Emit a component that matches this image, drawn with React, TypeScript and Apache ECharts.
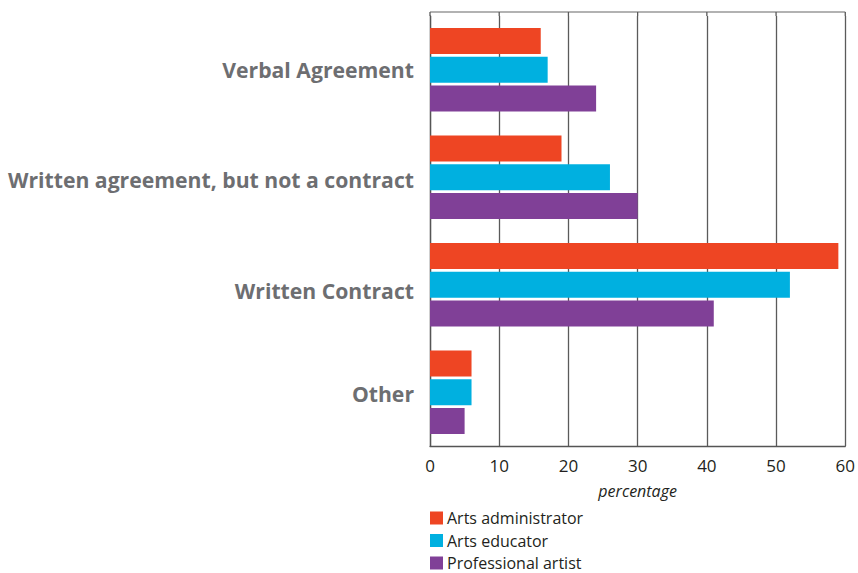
import React, { useEffect, useRef } from "react";
import * as echarts from "echarts";

const categories = [
  "Verbal Agreement",
  "Written agreement, but not a contract",
  "Written Contract",
  "Other",
];
const seriesNames = ["Arts administrator", "Arts educator", "Professional artist"];
const artsAdministrator = [16, 19, 59, 6];
const artsEducator = [17, 26, 52, 6];
const professionalArtist = [24, 30, 41, 5];
const colors = ["#ee4523", "#00b0e0", "#804097"];
const xTicks = { min: 0, max: 60, interval: 10 };

// vertical nudges of the category labels (px, downward)
const labelShift = [0, 2, 6, 1];

export default function App() {
  const ref = useRef<HTMLDivElement>(null);
  useEffect(() => {
    if (!ref.current) return;
    const chart = echarts.init(ref.current, null, { renderer: "svg" });
    const data = [artsAdministrator, artsEducator, professionalArtist];
    const rich: Record<string, any> = {};
    labelShift.forEach((s, i) => {
      rich["s" + i] = {
        fontFamily: "Open Sans",
        fontWeight: "bold",
        fontSize: 21.2,
        color: "#6d6e71",
        padding: [s * 2, 0, 0, 0],
      };
    });
    const gridTop = 16;
    const borderTop = 12;
    chart.setOption({
      animation: false,
      grid: { left: 430, right: 9, top: gridTop, bottom: 127, containLabel: false },
      legend: {
        orient: "vertical",
        left: 430,
        top: 510,
        height: 80,
        padding: 0,
        itemWidth: 13,
        itemHeight: 13,
        itemGap: 6.5,
        icon: "rect",
        data: seriesNames,
        textStyle: {
          fontFamily: "Open Sans",
          fontSize: 16,
          lineHeight: 14,
          color: "#231f20",
          padding: [0, 0, 0, -1],
        },
      },
      xAxis: {
        type: "value",
        min: xTicks.min,
        max: xTicks.max,
        interval: xTicks.interval,
        name: "percentage",
        nameLocation: "middle",
        nameGap: 37,
        nameTextStyle: { fontFamily: "Open Sans", fontStyle: "italic", fontSize: 16, color: "#231f20" },
        axisLine: { show: true, lineStyle: { color: "#555", width: 1.3 } },
        axisTick: { show: false },
        axisLabel: { fontFamily: "Open Sans", fontSize: 17, color: "#231f20", margin: 11 },
        splitLine: { show: true, lineStyle: { color: "#5a5a5a", width: 1.3 } },
      },
      yAxis: {
        type: "category",
        inverse: true,
        data: categories,
        axisLine: { show: true, lineStyle: { color: "#555", width: 1.3 } },
        axisTick: { show: false },
        axisLabel: {
          margin: 16,
          formatter: (v: string, i: number) => `{s${i}|${v}}`,
          rich,
        },
      },
      series: seriesNames.map((name, i) => ({
        name,
        type: "bar",
        data: data[i],
        barWidth: 26,
        barGap: "11%",
        itemStyle: { color: colors[i] },
      })),
    });
    // frame top and gridline extensions up to the frame
    const ticks: number[] = [];
    for (let v = xTicks.min; v <= xTicks.max; v += xTicks.interval) ticks.push(v);
    const xs = ticks.map((v) => chart.convertToPixel({ xAxisIndex: 0 }, v) as number);
    const graphics: any[] = [
      {
        type: "line",
        shape: { x1: xs[0], y1: borderTop, x2: xs[xs.length - 1], y2: borderTop },
        style: { stroke: "#999", lineWidth: 1.3 },
      },
      ...xs.map((x) => ({
        type: "line",
        shape: { x1: x, y1: borderTop, x2: x, y2: gridTop },
        style: { stroke: "#5a5a5a", lineWidth: 1.3 },
      })),
    ];
    chart.setOption({ graphic: graphics });
    return () => chart.dispose();
  }, []);
  return (
    <div
      ref={ref}
      style={{ position: "fixed", left: 0, top: 0, width: 858, height: 573, background: "#fff" }}
    />
  );
}
